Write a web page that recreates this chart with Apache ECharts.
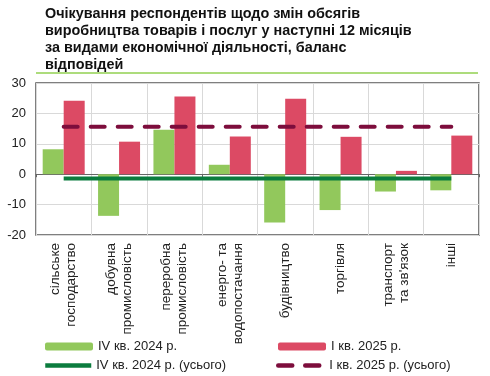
<!DOCTYPE html>
<html>
<head>
<meta charset="utf-8">
<script src="https://cdn.jsdelivr.net/npm/echarts@6/dist/echarts.min.js"></script>
<style>
  html, body { margin: 0; padding: 0; background: #fff; }
  #main { width: 490px; height: 376px; }
</style>
</head>
<body>
<div id="main"></div>
<script>
const categories = ['сільське\nгосподарство', 'добувна\nпромисловість', 'переробна\nпромисловість', 'енерго- та\nводопостачання', 'будівництво', 'торгівля', 'транспорт\nта зв\'язок', 'інші'];
const q4_2024 = [8.2, -13.7, 14.6, 3.1, -15.9, -11.8, -5.7, -5.3];
const q1_2025 = [24.2, 10.7, 25.6, 12.4, 24.8, 12.3, 1.1, 12.7];
const q4_2024_total = -1.4;
const q1_2025_total = 15.6;
const yTicks = [-20, -10, 0, 10, 20, 30];

const names = ['IV кв. 2024 р.', 'I кв. 2025 р.', 'IV кв. 2024 р. (усього)', 'I кв. 2025 р. (усього)'];
const colors = ['#92C85C', '#DC4A64', '#0B7C3E', '#7D0D3C'];
const font = 'Liberation Sans, Arial, sans-serif';

const chartDom = document.getElementById('main');
const myChart = echarts.init(chartDom, null, { renderer: 'canvas' });

// line series: hide the legend symbol, keep the line
const legendItem = (name, left, top, lineIcon) => ({
    left: left, top: top,
    data: [lineIcon ? { name: name, itemStyle: { opacity: 0 } } : name],
    itemWidth: lineIcon ? 46 : 48, itemHeight: 8, itemGap: 6,
    lineStyle: { width: 4.5 },
    textStyle: { fontFamily: font, fontSize: 13, color: '#222' }
});

let option = {
    animation: false,
    title: {
        text: 'Очікування респондентів щодо змін обсягів\nвиробництва товарів і послуг у наступні 12 місяців\nза видами економічної діяльності, баланс\nвідповідей',
        left: 40, top: 1,
        textStyle: { fontFamily: font, fontSize: 14.4, fontWeight: 'bold', color: '#111', lineHeight: 17 }
    },
    graphic: [{
        type: 'line',
        shape: { x1: 36, y1: 73, x2: 478, y2: 73 },
        style: { stroke: '#92D050', lineWidth: 1.5 }
    }],
    legend: [
        legendItem(names[0], 40, 335, false),
        legendItem(names[1], 273, 335, false),
        legendItem(names[2], 38, 354, true),
        legendItem(names[3], 271, 354, true)
    ],
    grid: {
        left: 36, right: 11, top: 83, bottom: 141,
        show: true, borderColor: '#555', borderWidth: 1.5
    },
    xAxis: [{
        type: 'category',
        data: categories,
        axisLine: { show: false, onZero: false },
        axisTick: { show: false },
        splitLine: { show: true, lineStyle: { color: '#d9d9d9' } },
        axisLabel: {
            rotate: 90, interval: 0, margin: 8,
            fontFamily: font, fontSize: 13.5, color: '#222', lineHeight: 16
        }
    }, {
        type: 'category',
        data: categories,
        position: 'bottom',
        axisLine: { show: true, onZero: true, lineStyle: { color: '#666', width: 1 } },
        axisTick: { show: true, length: 3, inside: false, lineStyle: { color: '#666' } },
        axisLabel: { show: false },
        splitLine: { show: false }
    }],
    yAxis: {
        type: 'value',
        min: yTicks[0], max: yTicks[yTicks.length - 1], interval: 10,
        axisLine: { show: false },
        axisTick: { show: false },
        splitLine: { lineStyle: { color: '#d9d9d9' } },
        axisLabel: { fontFamily: font, fontSize: 13, color: '#222', margin: 10 }
    },
    series: [{
        name: names[0], type: 'bar', data: q4_2024,
        barWidth: 21, barGap: '0%',
        itemStyle: { color: colors[0] }
    }, {
        name: names[1], type: 'bar', data: q1_2025,
        barWidth: 21, barGap: '0%',
        itemStyle: { color: colors[1] }
    }, {
        name: names[2], type: 'line',
        data: categories.map(() => q4_2024_total),
        symbol: 'none', z: 5,
        lineStyle: { color: colors[2], width: 4 },
        itemStyle: { color: colors[2] }
    }, {
        name: names[3], type: 'line',
        data: categories.map(() => q1_2025_total),
        symbol: 'none', z: 5,
        lineStyle: { color: colors[3], width: 4, type: [14, 13], cap: 'round' },
        itemStyle: { color: colors[3] }
    }]
};

option && myChart.setOption(option);
</script>
</body>
</html>
